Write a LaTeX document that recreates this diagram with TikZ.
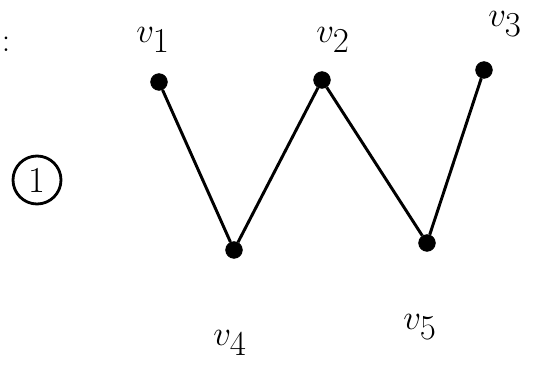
\documentclass[tikz,border=0pt]{standalone}
\usepackage{tikz}
\usetikzlibrary{positioning}

\begin{document}
\begin{tikzpicture}[
  x=0.025cm, y=-0.025cm,
  vtx/.style={
    circle, draw=black, fill=black,
    minimum size=0.42cm, inner sep=0pt
  },
  vlabel/.style={
    font=\fontsize{38}{42}\selectfont, inner sep=0pt
  },
  edge/.style={-, line width=2.1pt, black},
]
  \useasboundingbox (0,0) rectangle (540,372);

  % vertices
  \node[vtx] (v1) at (159,82) {};
  \node[vtx] (v2) at (322,80) {};
  \node[vtx] (v3) at (484,70) {};
  \node[vtx] (v4) at (234,250) {};
  \node[vtx] (v5) at (427,243) {};

  % labels
  \node[vlabel] (l1) at (153,40) {$v_1$};
  \node[vlabel] (l2) at (333,40) {$v_2$};
  \node[vlabel] (l3) at (505,24) {$v_3$};
  \node[vlabel] (l4) at (230,343) {$v_4$};
  \node[vlabel] (l5) at (420,327) {$v_5$};

  % edges
  \draw[edge] (v1) -- (v4);
  \draw[edge] (v4) -- (v2);
  \draw[edge] (v2) -- (v5);
  \draw[edge] (v5) -- (v3);

  % graph number
  \node[draw, circle, line width=2pt, minimum width=1.2cm, inner sep=0pt,
    font=\fontsize{26}{30}\selectfont] (num) at (37,180) {1};
  \node[font=\fontsize{24}{28}\selectfont, inner sep=0pt] (colon) at (6,44) {:};
\end{tikzpicture}
\end{document}
